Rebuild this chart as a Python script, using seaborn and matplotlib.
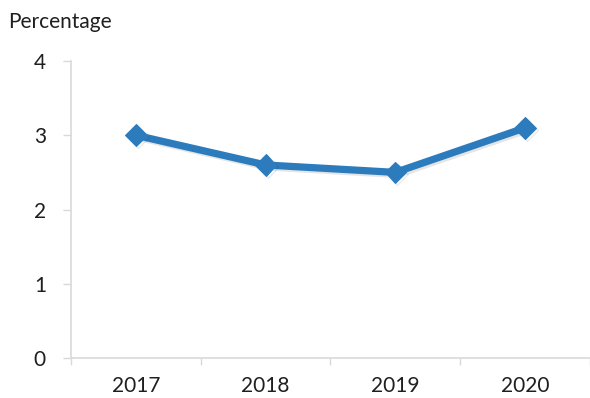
import matplotlib
matplotlib.use("Agg")
import matplotlib.pyplot as plt
import matplotlib.patheffects as pe
import seaborn as sns
import pandas as pd

years = ["2017", "2018", "2019", "2020"]
percentage = [3.0, 2.6, 2.5, 3.1]
y_ticks = [0, 1, 2, 3, 4]

sns.set_style("white")
plt.rcParams["font.family"] = ["Lato", "DejaVu Sans"]

df = pd.DataFrame({"year": years, "pct": percentage})

fig = plt.figure(figsize=(5.9, 3.98), dpi=100)
ax = fig.add_axes([0.1203, 0.1005, 0.8797, 0.7462])

line_color = "#2b7bbd"
sns.lineplot(data=df, x="year", y="pct", ax=ax, color=line_color,
             linewidth=5.2, marker="D", markersize=11,
             markeredgecolor=line_color, markerfacecolor=line_color,
             path_effects=[pe.SimpleLineShadow(offset=(1.5, -1.5), alpha=0.1),
                           pe.Normal()])

ax.set_xlim(-0.5, 3.5)
ax.set_ylim(0, 4)
ax.set_yticks(y_ticks)
ax.set_xticks(range(len(years)))
ax.set_xticklabels(years)
ax.set_xticks([i - 0.5 for i in range(len(years) + 1)], minor=True)
ax.set_xlabel("")
ax.set_ylabel("")

for side in ["top", "right"]:
    ax.spines[side].set_visible(False)
for side in ["left", "bottom"]:
    ax.spines[side].set_color("#d9d9d9")
    ax.spines[side].set_linewidth(1.2)

text_color = "#1f1f1f"
ax.tick_params(axis="x", which="major", length=0, pad=13, labelsize=15,
               labelcolor=text_color)
ax.tick_params(axis="x", which="minor", length=5, width=1.0, color="#d9d9d9",
               direction="out", bottom=True)
ax.tick_params(axis="y", length=6, width=1.0, color="#d9d9d9", direction="out",
               left=True, pad=12, labelsize=15, labelcolor=text_color)

fig.text(8 / 590, 1 - 22 / 398, "Percentage", fontsize=15, color=text_color,
         ha="left", va="center")

fig.savefig("out.png", dpi=100)
